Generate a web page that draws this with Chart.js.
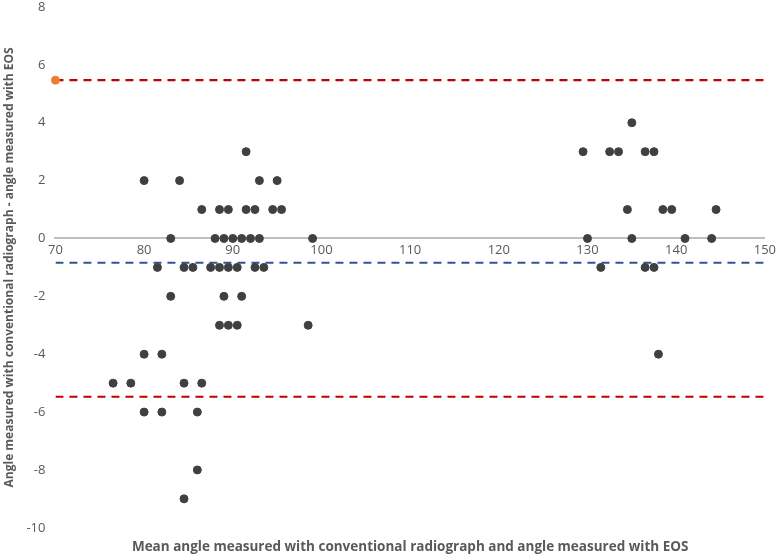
<!DOCTYPE html>
<html>
<head>
<meta charset="utf-8">
<script src="https://cdn.jsdelivr.net/npm/chart.js@4"></script>
<style>
  html, body { margin: 0; padding: 0; background: #fff; }
  #wrap { width: 780px; height: 560px; }
</style>
</head>
<body>
<div id="wrap"><canvas id="myChart"></canvas></div>
<script>
// mean of the two measurements (x) and their difference (y)
var meanAngle = [
    135,
    91.5, 129.5, 132.5, 133.5, 136.5, 137.5,
    80, 84, 93, 95,
    86.5, 88.5, 89.5, 91.5, 92.5, 94.5, 95.5, 134.5, 138.5, 139.5, 144.5,
    83, 88, 89, 90, 91, 92, 93, 99, 130, 135, 141, 144,
    81.5, 84.5, 85.5, 87.5, 88.5, 89.5, 90.5, 92.5, 93.5, 131.5, 136.5, 137.5,
    83, 89, 91,
    88.5, 89.5, 90.5, 98.5,
    80, 82, 138,
    76.5, 78.5, 84.5, 86.5,
    80, 82, 86,
    86,
    84.5
];
var angleDiff = [
    4,
    3, 3, 3, 3, 3, 3,
    2, 2, 2, 2,
    1, 1, 1, 1, 1, 1, 1, 1, 1, 1, 1,
    0, 0, 0, 0, 0, 0, 0, 0, 0, 0, 0, 0,
    -1, -1, -1, -1, -1, -1, -1, -1, -1, -1, -1, -1,
    -2, -2, -2,
    -3, -3, -3, -3,
    -4, -4, -4,
    -5, -5, -5, -5,
    -6, -6, -6,
    -8,
    -9
];

var upperLimit = 5.47;
var meanBias = -0.84;
var lowerLimit = -5.47;
var xRange = [70, 150];
var yTicks = [-10, -8, -6, -4, -2, 0, 2, 4, 6, 8];

var points = meanAngle.map(function (m, i) {
    return { x: m, y: angleDiff[i] };
});

function hLine(y) {
    return [{ x: xRange[0], y: y }, { x: xRange[1], y: y }];
}

var ctx = document.getElementById('myChart').getContext('2d');
var myChart = new Chart(ctx, {
    type: 'scatter',
    data: {
        datasets: [{
            data: points,
            backgroundColor: '#404040',
            borderColor: '#404040',
            pointRadius: 4,
            pointHoverRadius: 4,
            order: 0
        }, {
            type: 'line',
            data: hLine(upperLimit),
            borderColor: '#C00000',
            borderWidth: 2.2,
            borderDash: [8, 6],
            pointRadius: 0,
            order: 2
        }, {
            type: 'line',
            data: hLine(meanBias),
            borderColor: '#2F5597',
            borderWidth: 2.2,
            borderDash: [8, 6],
            pointRadius: 0,
            order: 2
        }, {
            type: 'line',
            data: hLine(lowerLimit),
            borderColor: '#C00000',
            borderWidth: 2.2,
            borderDash: [8, 6],
            pointRadius: 0,
            order: 2
        }, {
            data: [{ x: xRange[0], y: upperLimit }],
            backgroundColor: '#ED7D31',
            borderColor: '#ED7D31',
            pointRadius: 4,
            clip: false,
            order: 1
        }]
    },
    options: {
        responsive: true,
        maintainAspectRatio: false,
        animation: false,
        layout: { padding: { left: 0, right: 4, top: 0, bottom: 0 } },
        plugins: {
            legend: { display: false },
            tooltip: { enabled: false },
            title: {
                display: true,
                position: 'bottom',
                fullSize: false,
                text: 'Mean angle measured with conventional radiograph and angle measured with EOS',
                color: '#595959',
                font: { family: 'Open Sans', size: 13.5, weight: 'bold' },
                padding: { top: 11, bottom: 5 }
            }
        },
        scales: {
            x: {
                type: 'linear',
                position: { y: 0 },
                min: xRange[0],
                max: xRange[1],
                grid: { display: false, drawTicks: false },
                border: { display: true, color: '#BFBFBF', width: 2 },
                ticks: {
                    stepSize: 10,
                    color: '#595959',
                    padding: 4,
                    font: { family: 'Open Sans', size: 13 }
                }
            },
            y: {
                type: 'linear',
                position: 'left',
                min: yTicks[0],
                max: yTicks[yTicks.length - 1],
                grid: { display: false, drawTicks: false },
                border: { display: false },
                afterBuildTicks: function (axis) {
                    axis.ticks = yTicks.map(function (v) { return { value: v }; });
                },
                afterFit: function (axis) {
                    // tick padding is also added above the top label; keep the top tight
                    axis.paddingTop = 7;
                },
                ticks: {
                    color: '#595959',
                    padding: 10,
                    font: { family: 'Open Sans', size: 13 }
                },
                title: {
                    display: true,
                    text: 'Angle measured with conventional radiograph - angle measured with EOS',
                    color: '#595959',
                    font: { family: 'Open Sans', size: 12, weight: 'bold' },
                    padding: { top: 2, bottom: 0 }
                }
            }
        }
    }
});
</script>
</body>
</html>
